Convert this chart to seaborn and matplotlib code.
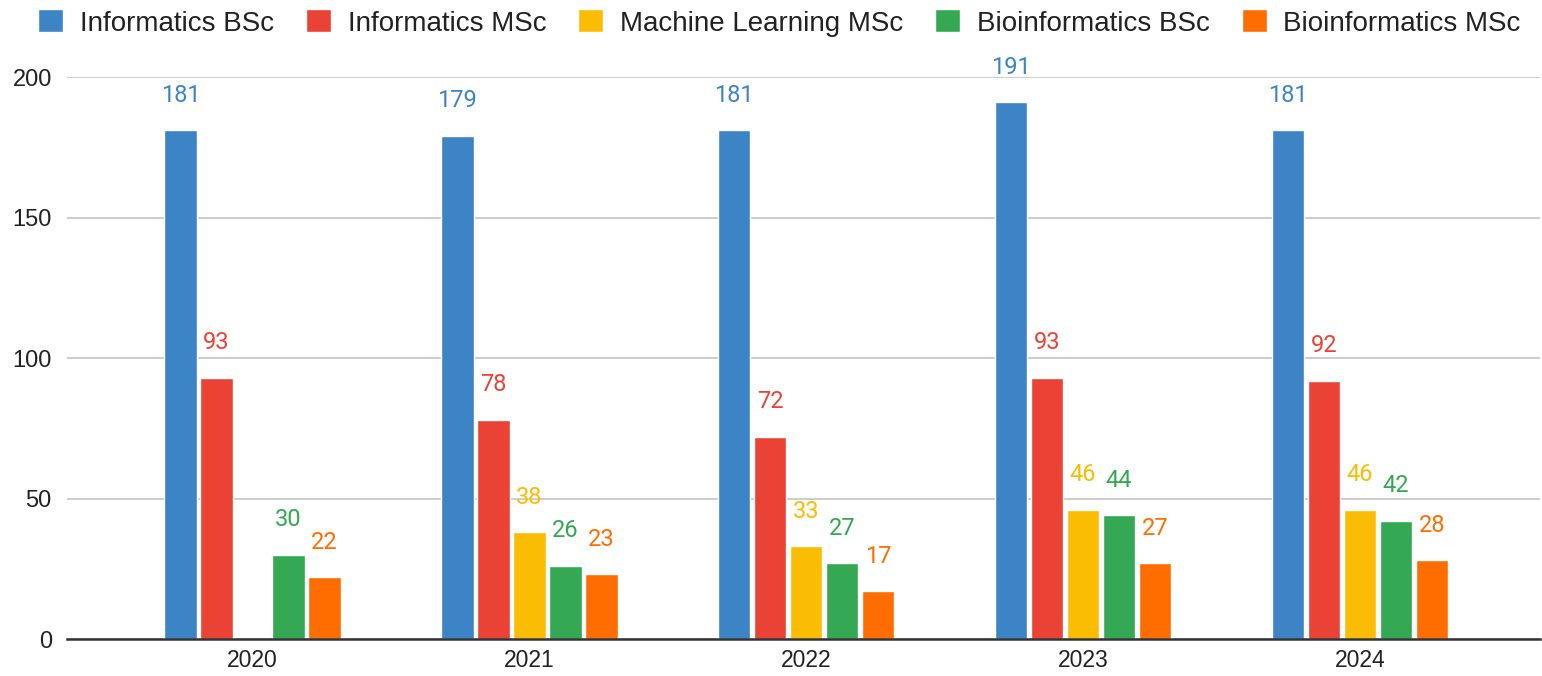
import matplotlib
matplotlib.use('Agg')
import matplotlib.pyplot as plt
import seaborn as sns
import pandas as pd
import numpy as np

# Datos
years = ['2020', '2021', '2022', '2023', '2024']
programs = ['Informatics BSc', 'Informatics MSc', 'Machine Learning MSc',
            'Bioinformatics BSc', 'Bioinformatics MSc']
informatics_bsc = [181, 179, 181, 191, 181]
informatics_msc = [93, 78, 72, 93, 92]
ml_msc = [np.nan, 38, 33, 46, 46]
bioinformatics_bsc = [30, 26, 27, 44, 42]
bioinformatics_msc = [22, 23, 17, 27, 28]
colors = ['#3D84C6', '#EA4335', '#FBBC04', '#34A853', '#FF6D01']

series = [informatics_bsc, informatics_msc, ml_msc, bioinformatics_bsc, bioinformatics_msc]
df = pd.DataFrame({
    'year': np.tile(years, len(programs)),
    'program': np.repeat(programs, len(years)),
    'value': np.concatenate(series),
})

sns.set_theme(style='white')
plt.rcParams['font.family'] = ['Liberation Sans', 'DejaVu Sans']

fig = plt.figure(figsize=(15.42, 6.76), dpi=100)
ax = fig.add_axes([0.0435, 0.0547, 0.955, 0.8313])

sns.barplot(data=df, x='year', y='value', hue='program', hue_order=programs,
            palette=colors, width=0.65, gap=0.1, saturation=1, ax=ax)

# Etiquetas de valores sobre cada barra
for container, color in zip(ax.containers, colors):
    labels = [f'{v:.0f}' if not np.isnan(v) else '' for v in container.datavalues]
    ax.bar_label(container, labels=labels, padding=17, color=color,
                 fontsize=17, family='Roboto')

ax.set_ylim(0, 200)
ax.set_xlim(-0.67, 4.65)
ax.set_yticks([0, 50, 100, 150, 200])
ax.set_xlabel('')
ax.set_ylabel('')
ax.yaxis.grid(True, color='#cccccc', linewidth=1.4)
ax.set_axisbelow(True)
for side in ['top', 'right', 'left']:
    ax.spines[side].set_visible(False)
ax.spines['bottom'].set_color('#333333')
ax.spines['bottom'].set_linewidth(1.8)
ax.tick_params(axis='y', length=0, pad=11, labelsize=17, labelcolor='#222222')
ax.tick_params(axis='x', length=0, pad=7, labelsize=16.5, labelcolor='#222222')

# Leyenda arriba, en una sola fila
handles, labs = ax.get_legend_handles_labels()
ax.get_legend().remove()
fig.legend(handles, labs, loc='center', bbox_to_anchor=(0.5055, 0.966), ncol=5,
           frameon=False, fontsize=20, handlelength=0.9, handleheight=0.9,
           handletextpad=0.6, columnspacing=1.15, labelcolor='#222222')

fig.savefig('out.png', dpi=100)
